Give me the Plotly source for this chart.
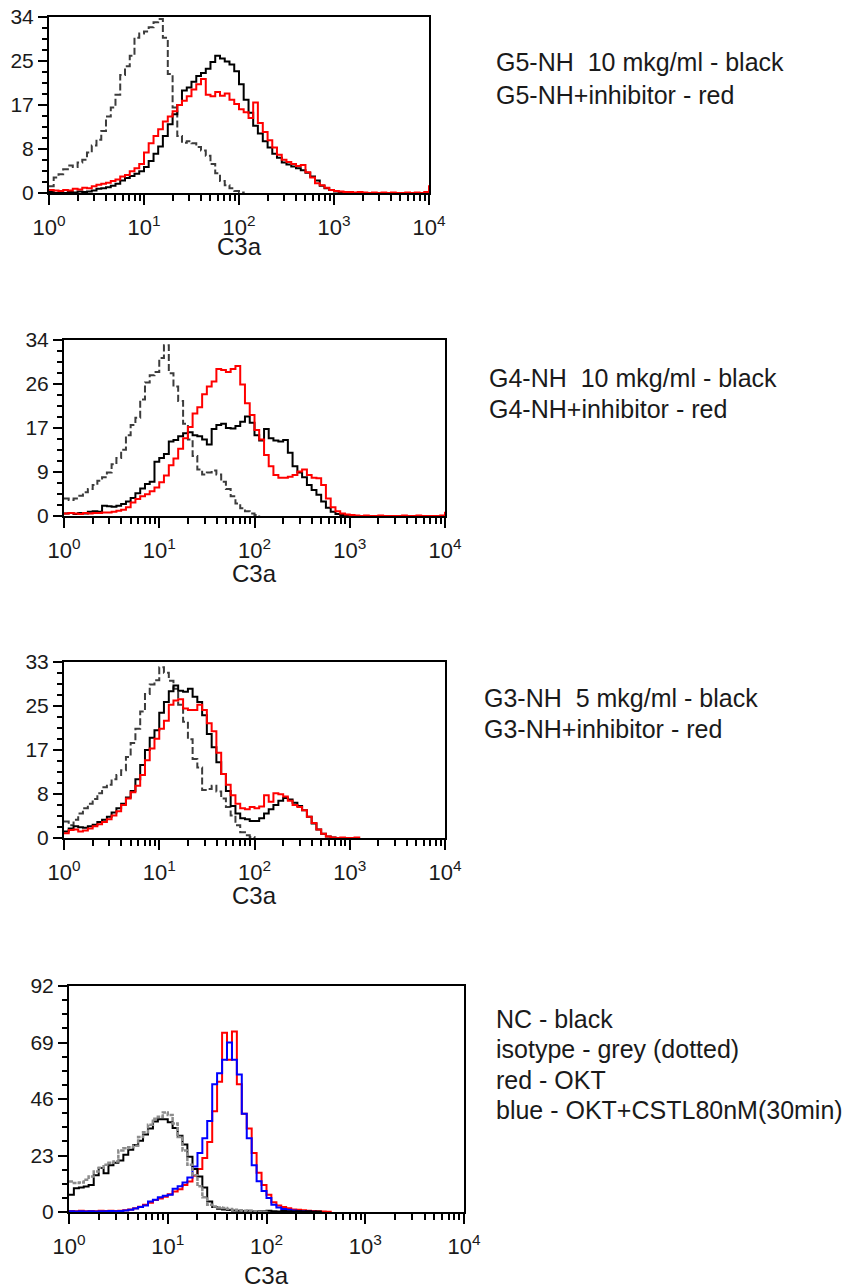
import plotly.graph_objects as go

W, H = 850, 1287
PAGE_OFFSET = 8  # the page body margin moves the figure down and right

# channel centres (log spaced, 20 per decade)
CHANNELS = [1.00, 1.12, 1.26, 1.41, 1.58, 1.78, 2.00, 2.24, 2.51, 2.82,
            3.16, 3.55, 3.98, 4.47, 5.01, 5.62, 6.31, 7.08, 7.94, 8.91,
            10.0, 11.2, 12.6, 14.1, 15.8, 17.8, 20.0, 22.4, 25.1, 28.2,
            31.6, 35.5, 39.8, 44.7, 50.1, 56.2, 63.1, 70.8, 79.4, 89.1,
            100, 112, 126, 141, 158, 178, 200, 224, 251, 282,
            316, 355, 398, 447, 501, 562, 631, 708, 794, 891,
            1000, 1122, 1259, 1413, 1585, 1778, 1995, 2239, 2512, 2818,
            3162, 3548, 3981, 4467, 5012, 5623, 6310, 7079, 7943, 8913,
            10000]

X_TICKS = [1, 10, 100, 1000, 10000]
X_TICK_LABELS = ["10<sup>0</sup>", "10<sup>1</sup>", "10<sup>2</sup>", "10<sup>3</sup>", "10<sup>4</sup>"]
X_TITLE = "C3a"

# G5-NH panel
G5_ISOTYPE = [1.3, 3.0, 3.6, 4.6, 5.3, 5.0, 5.9, 6.4, 7.8, 9.2,
              10.3, 12.0, 14.8, 16.5, 19.0, 22.8, 24.5, 26.5, 30.0, 30.8,
              31.2, 32.0, 33.0, 33.6, 30.0, 23.0, 16.5, 11.0, 9.7, 10.0,
              9.6, 8.9, 8.2, 7.2, 5.6, 3.8, 2.3, 1.5, 0.9, 0.4,
              0.1, 0.0]
G5_NH = [0.2, 0.0, 0.1, 0.0, 0.2, 0.1, 0.3, 0.2, 0.3, 0.5,
         0.8, 0.9, 1.1, 1.4, 1.8, 2.4, 2.9, 3.3, 3.7, 4.2,
         5.0, 6.2, 7.6, 9.0, 11.0, 13.3, 15.2, 17.0, 19.8, 20.4,
         21.5, 22.6, 23.2, 24.0, 25.3, 26.5, 26.0, 25.4, 24.8, 23.5,
         21.0, 18.0, 15.5, 13.0, 11.5, 10.0, 8.8, 7.6, 6.8, 5.9,
         5.5, 5.1, 4.8, 4.4, 3.9, 3.2, 2.4, 1.4, 0.9, 0.6,
         0.3, 0.1, 0.0]
G5_INHIB = [0.6, 0.5, 0.4, 0.6, 0.5, 0.8, 0.7, 1.0, 0.9, 1.3,
            1.6, 1.8, 2.0, 2.3, 2.6, 3.2, 3.5, 4.2, 4.8, 5.6,
            7.8, 9.6, 11.0, 12.3, 13.8, 14.8, 15.8, 17.0, 17.8, 18.7,
            20.0, 21.0, 22.0, 19.0, 18.7, 19.5, 18.8, 19.2, 18.0, 17.2,
            16.2, 15.6, 14.5, 17.5, 13.5, 11.8, 10.2, 8.8, 7.4, 6.4,
            6.0, 5.6, 5.2, 5.4, 4.0, 3.0, 1.9, 1.5, 1.0, 0.6,
            0.4, 0.3, 0.2, 0.2, 0.1, 0.2, 0.1, 0.0, 0.1, 0.0,
            0.1, 0.0, 0.1, 0.0, 0.0, 0.1, 0.0, 0.1, 0.0, 0.2,
            1.5]
G5_YMAX = 34
G5_YLABELS = ["0", "8", "17", "25", "34"]
G5_TEXT = ["G5-NH\u00a0 10 mkg/ml - black", "G5-NH+inhibitor - red"]

# G4-NH panel
G4_ISOTYPE = [3.4, 3.1, 3.4, 3.9, 4.6, 5.2, 6.0, 6.8, 7.5, 8.4,
              10.0, 11.2, 12.8, 15.6, 17.6, 19.0, 22.5, 25.8, 27.2, 27.8,
              30.5, 33.0, 27.6, 25.0, 22.2, 17.8, 14.8, 11.6, 9.0, 8.0,
              8.4, 8.8, 8.0, 6.6, 5.2, 3.8, 2.4, 1.5, 0.9, 0.5,
              0.2, 0.0]
G4_NH = [0.5, 0.6, 0.4, 0.6, 0.5, 0.8, 0.9, 0.8, 2.0, 1.9,
         1.8, 2.0, 2.3, 2.8, 3.5, 4.4, 5.3, 6.2, 6.6, 10.5,
         11.2, 12.0, 14.4, 14.7, 15.4, 16.0, 16.2, 15.6, 15.4, 14.8,
         13.8, 16.8, 17.6, 17.8, 17.0, 16.9, 17.4, 18.2, 19.2, 18.0,
         15.6, 14.6, 16.8, 15.0, 14.6, 14.4, 14.7, 12.2, 9.6, 8.4,
         7.5, 6.0, 5.0, 4.1, 2.8, 1.6, 0.8, 0.4, 0.2, 0.1,
         0.0]
G4_INHIB = [0.5, 0.6, 0.5, 0.4, 0.6, 0.5, 0.6, 0.6, 0.7, 0.7,
            0.8, 1.0, 1.2, 1.7, 2.6, 3.3, 3.8, 4.2, 4.8, 5.5,
            6.5, 7.8, 9.8, 11.1, 13.0, 15.0, 17.2, 19.8, 21.0, 23.5,
            25.0, 26.0, 28.4, 28.2, 27.8, 28.4, 29.0, 25.4, 21.8, 19.5,
            16.6, 14.8, 11.8, 9.6, 7.9, 7.4, 7.4, 7.6, 7.9, 8.6,
            9.0, 7.9, 7.4, 7.3, 6.0, 3.4, 1.7, 0.9, 0.5, 0.3,
            0.2, 0.1, 0.0, 0.1, 0.0, 0.0, 0.1, 0.0, 0.0, 0.0,
            0.0, 0.1, 0.0, 0.0, 0.1, 0.0, 0.0, 0.0, 0.0, 0.1,
            0.8]
G4_YMAX = 34
G4_YLABELS = ["0", "9", "17", "26", "34"]
G4_TEXT = ["G4-NH\u00a0 10 mkg/ml - black", "G4-NH+inhibitor - red"]

# G3-NH panel
G3_ISOTYPE = [3.1, 2.4, 3.4, 4.6, 5.6, 6.4, 7.3, 8.4, 9.5, 10.0,
              11.0, 11.8, 12.7, 15.2, 17.8, 20.5, 23.7, 27.0, 28.8, 29.6,
              32.0, 31.0, 29.5, 28.0, 25.0, 21.8, 18.5, 14.8, 13.2, 9.0,
              9.2, 9.8, 8.7, 7.4, 5.8, 4.2, 2.4, 1.1, 0.5, 0.2,
              0.0]
G3_NH = [1.2, 1.8, 2.2, 2.0, 1.9, 2.2, 2.5, 3.0, 3.4, 4.0,
         4.8, 5.6, 6.4, 7.6, 8.8, 11.0, 13.7, 16.5, 18.8, 20.2,
         23.5, 25.5, 27.5, 28.6, 27.6, 27.4, 28.0, 26.5, 25.5, 23.0,
         19.5, 17.0, 14.2, 12.0, 8.8, 6.0, 4.6, 3.7, 3.5, 3.2,
         3.2, 3.7, 4.6, 5.4, 6.2, 7.0, 7.5, 7.2, 6.6, 6.0,
         5.2, 4.0, 2.7, 1.6, 0.8, 0.3, 0.1, 0.0]
G3_INHIB = [0.9, 1.5, 1.6, 1.2, 1.4, 1.8, 2.2, 2.6, 3.0, 3.5,
            4.2, 5.0, 6.2, 7.4, 8.6, 9.8, 11.8, 14.6, 16.8, 18.6,
            20.5, 22.0, 25.0, 25.8, 26.0, 24.3, 24.0, 24.0, 25.0, 24.0,
            21.5, 20.0, 16.0, 12.0, 10.0, 8.0, 6.4, 5.6, 5.4, 5.8,
            5.6, 5.9, 8.0, 6.8, 8.4, 8.2, 7.8, 7.0, 6.2, 5.8,
            5.2, 4.0, 2.8, 1.6, 0.8, 0.3, 0.1, 0.0, 0.1, 0.0,
            0.0, 0.1, 0.0]
G3_YMAX = 33
G3_YLABELS = ["0", "8", "17", "25", "33"]
G3_TEXT = ["G3-NH\u00a0 5 mkg/ml - black", "G3-NH+inhibitor - red"]

# OKT panel
NC = [7.0, 9.7, 10.0, 10.4, 11.0, 15.0, 17.9, 15.8, 19.0, 20.0,
      21.0, 23.3, 25.3, 27.3, 29.0, 31.5, 34.0, 36.8, 37.8, 37.8,
      36.5, 34.2, 31.0, 27.5, 22.5, 17.5, 14.5, 10.0, 4.3, 2.0,
      1.3, 1.0, 0.8, 0.6, 0.5, 0.4, 0.5, 0.3, 0.4, 0.3,
      0.5, 0.3, 0.2, 0.4, 0.3, 0.2, 0.3, 0.2, 0.3, 0.1,
      0.2, 0.0]
ISOTYPE = [12.4, 11.8, 12.0, 13.1, 14.5, 16.5, 18.0, 19.2, 20.0, 20.6,
           25.0, 26.0, 26.4, 27.0, 30.5, 32.5, 35.5, 38.0, 38.8, 40.5,
           39.5, 36.0, 30.5, 25.0, 19.2, 15.0, 10.5, 6.0, 3.0, 2.2,
           1.8, 1.6, 1.2, 0.9, 0.7, 0.5, 0.4, 0.3, 0.2, 0.1,
           0.0]
OKT = [0.4, 0.3, 0.5, 0.3, 0.4, 0.3, 0.5, 0.4, 0.5, 0.4,
       0.5, 0.7, 1.0, 1.5, 2.1, 3.0, 3.8, 4.9, 5.5, 6.2,
       7.2, 8.3, 9.3, 11.0, 12.4, 14.8, 17.5, 22.0, 28.5, 41.0,
       53.0, 73.0, 62.0, 73.5, 52.0, 40.0, 34.0, 24.0, 16.0, 11.0,
       7.0, 4.0, 2.6, 2.0, 1.5, 1.0, 0.9, 0.7, 0.5, 0.4,
       0.3, 0.2, 0.1, 0.0]
OKT_CSTL = [0.3, 0.2, 0.3, 0.2, 0.3, 0.2, 0.3, 0.3, 0.4, 0.3,
            0.4, 0.6, 0.9, 1.4, 2.0, 2.6, 4.3, 5.0, 6.0, 6.6,
            7.0, 9.5, 10.5, 12.0, 14.0, 18.5, 24.0, 30.0, 37.0, 52.0,
            56.5, 62.0, 69.0, 62.0, 56.0, 40.0, 30.0, 19.0, 12.5, 8.5,
            5.7, 3.0, 1.8, 1.2, 0.9, 0.6, 0.4, 0.3, 0.2, 0.1,
            0.0]
OKT_YMAX = 92
OKT_YLABELS = ["0", "23", "46", "69", "92"]
OKT_TEXT = ["NC - black", "isotype - grey (dotted)", "red - OKT", "blue - OKT+CSTL80nM(30min)"]

FONT = "Liberation Sans, Arial, sans-serif"
ISO_DASH = dict(color="#3c3c3c", width=2, dash="7px,3px")

# layout boxes in page pixels: left, right, top, bottom
panels = [
    dict(box=(49, 429, 17, 193), ymax=G5_YMAX, ylabels=G5_YLABELS,
         traces=[(G5_ISOTYPE, ISO_DASH), (G5_NH, dict(color="black", width=2)), (G5_INHIB, dict(color="#ff0000", width=2))],
         text=G5_TEXT, text_x=494, text_y=[61.5, 95], title_y=247),
    dict(box=(64, 445, 340, 516), ymax=G4_YMAX, ylabels=G4_YLABELS,
         traces=[(G4_ISOTYPE, ISO_DASH), (G4_NH, dict(color="black", width=2)), (G4_INHIB, dict(color="#ff0000", width=2))],
         text=G4_TEXT, text_x=487, text_y=[378, 409], title_y=573),
    dict(box=(64, 445, 662, 838), ymax=G3_YMAX, ylabels=G3_YLABELS,
         traces=[(G3_ISOTYPE, ISO_DASH), (G3_NH, dict(color="black", width=2)), (G3_INHIB, dict(color="#ff0000", width=2))],
         text=G3_TEXT, text_x=482, text_y=[698, 729], title_y=895),
    dict(box=(69, 464, 986, 1212), ymax=OKT_YMAX, ylabels=OKT_YLABELS,
         traces=[(OKT, dict(color="#ff0000", width=2)), (OKT_CSTL, dict(color="#0000ff", width=2)),
                 (NC, dict(color="black", width=2)), (ISOTYPE, dict(color="#8c8c8c", width=2.5, dash="4px,1px"))],
         text=OKT_TEXT, text_x=494, text_y=[1018.5, 1049, 1079.5, 1110], title_y=1275),
]


def fx(px):
    return (px - PAGE_OFFSET) / W


def fy(py):
    return 1 - (py - PAGE_OFFSET) / H


x_minor = [m * 10 ** d for d in range(4) for m in range(2, 10)]

fig = go.Figure()
layout = dict(width=W, height=H, margin=dict(l=0, r=0, t=0, b=0, autoexpand=False),
              paper_bgcolor="white", plot_bgcolor="white", showlegend=False,
              font=dict(family=FONT, color="#1a1a1a"))
annotations = []

for i, p in enumerate(panels):
    n = "" if i == 0 else str(i + 1)
    l, r, t, b = p["box"]
    for values, style in p["traces"]:
        line = dict(style)
        line["shape"] = "hv"
        fig.add_trace(go.Scatter(x=CHANNELS[:len(values)], y=values, mode="lines", line=line,
                                 xaxis="x" + n, yaxis="y" + n, hoverinfo="skip"))
    ymax = p["ymax"]
    layout["xaxis" + n] = dict(
        domain=[fx(l), fx(r)], anchor="y" + n, type="log", range=[0, 4], automargin=False,
        showline=True, linecolor="black", linewidth=2, mirror=True,
        showgrid=False, zeroline=False, ticklabeloverflow="allow",
        tickmode="array", tickvals=X_TICKS, ticktext=X_TICK_LABELS,
        ticks="outside", ticklen=10, tickwidth=1.5, tickcolor="black",
        ticklabelstandoff=4,
        tickfont=dict(size=22, family=FONT, color="#1a1a1a"),
        minor=dict(ticks="outside", ticklen=6, tickwidth=1.5, tickcolor="black",
                   tickmode="array", tickvals=x_minor, showgrid=False),
    )
    layout["yaxis" + n] = dict(
        domain=[fy(b), fy(t)], anchor="x" + n, range=[0, ymax], automargin=False,
        showline=True, linecolor="black", linewidth=2, mirror=True,
        showgrid=False, zeroline=False, ticklabeloverflow="allow",
        tickmode="array", tickvals=[ymax * k / 4 for k in range(5)], ticktext=p["ylabels"],
        ticks="outside", ticklen=9, tickwidth=1.5, tickcolor="black",
        tickfont=dict(size=21, family=FONT, color="#1a1a1a"),
        minor=dict(ticks="outside", ticklen=5, tickwidth=1.5, tickcolor="black",
                   tick0=0, dtick=ymax / 16, showgrid=False),
    )
    annotations.append(dict(text=X_TITLE, xref="paper", yref="paper",
                            x=fx((l + r) / 2), y=fy(p["title_y"]),
                            xanchor="center", yanchor="middle", showarrow=False,
                            font=dict(size=24, family=FONT, color="#1a1a1a")))
    for line_text, ty in zip(p["text"], p["text_y"]):
        annotations.append(dict(text=line_text, xref="paper", yref="paper",
                                x=fx(p["text_x"]), y=fy(ty),
                                xanchor="left", yanchor="middle", showarrow=False,
                                font=dict(size=25, family=FONT, color="#1a1a1a")))

layout["annotations"] = annotations
fig.update_layout(**layout)

fig.write_html("out.html")
